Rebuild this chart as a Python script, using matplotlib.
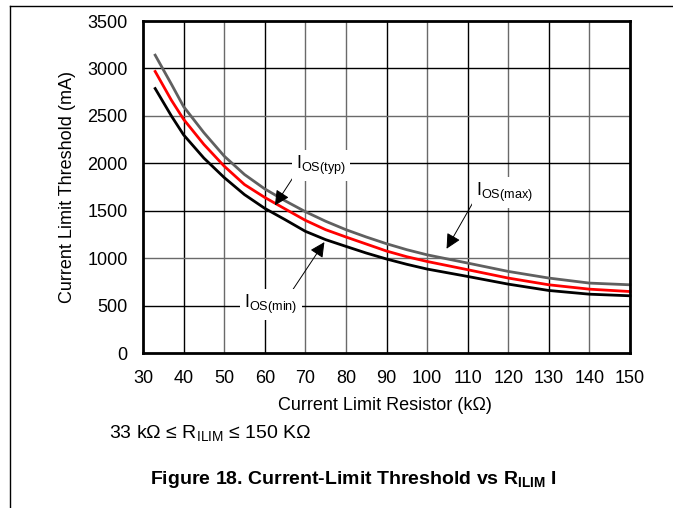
import matplotlib
matplotlib.use("Agg")
import matplotlib.pyplot as plt
from matplotlib.lines import Line2D

plt.rcParams['font.family'] = ['Liberation Sans', 'DejaVu Sans']
plt.rcParams['mathtext.fontset'] = 'custom'
plt.rcParams['mathtext.rm'] = 'Liberation Sans'
plt.rcParams['mathtext.it'] = 'Liberation Sans'
plt.rcParams['mathtext.bf'] = 'Liberation Sans:bold'

# Data
r_ilim = [33, 37, 40, 45, 50, 55, 60, 65, 70, 75, 80, 85, 90, 95, 100, 110, 120, 130, 140, 150]
ios_max = [3140, 2834, 2598, 2323, 2076, 1882, 1730, 1605, 1490, 1389, 1300, 1223, 1152, 1089,
           1035, 948, 860, 790, 737, 719]
ios_typ = [2968, 2665, 2464, 2199, 1970, 1776, 1640, 1519, 1399, 1300, 1223, 1149, 1075, 1015,
           965, 878, 790, 719, 673, 648]
ios_min = [2788, 2499, 2300, 2055, 1850, 1670, 1525, 1406, 1283, 1195, 1124, 1054, 991, 935,
           885, 807, 726, 659, 620, 603]

x_ticks = list(range(30, 151, 10))
y_ticks = list(range(0, 3501, 500))
vgrid_gray = [50, 70, 80, 100, 120, 140]
hgrid_gray = [1000, 2500]

W, H = 673, 508
fig = plt.figure(figsize=(W / 100, H / 100), dpi=100)
ax = fig.add_axes([143 / W, 1 - 353 / H, (630 - 143) / W, (353 - 21) / H])

ax.set_xlim(30, 150)
ax.set_ylim(0, 3500)
ax.set_xticks(x_ticks)
ax.set_yticks(y_ticks)
ax.tick_params(length=0, labelsize=13)
ax.tick_params(axis='x', pad=12)
ax.tick_params(axis='y', pad=11)

for xv in x_ticks[1:-1]:
    ax.axvline(xv, color='#6a6a6a' if xv in vgrid_gray else 'black', lw=1.0, zorder=1)
for yv in y_ticks[1:-1]:
    ax.axhline(yv, color='#6a6a6a' if yv in hgrid_gray else 'black', lw=1.0, zorder=1)

for sp in ax.spines.values():
    sp.set_linewidth(2.0)
    sp.set_zorder(5)

ax.plot(r_ilim, ios_max, color='#606060', lw=2.0, zorder=3, clip_on=False)
ax.plot(r_ilim, ios_typ, color='#ff0000', lw=2.0, zorder=3, clip_on=False)
ax.plot(r_ilim, ios_min, color='black', lw=2.0, zorder=3, clip_on=False)

arrow = dict(arrowstyle='-|>,head_length=0.9,head_width=0.45', color='black', lw=0.7,
             shrinkA=0, shrinkB=0)
box = dict(facecolor='white', edgecolor='none', pad=3)

ax.annotate('', xy=(62.5, 1556), xytext=(67.6, 1891), arrowprops=arrow, zorder=4)
ax.text(67.8, 1979, r'$\mathregular{I_{OS(typ)}}$', fontsize=13, va='center', ha='left',
        bbox=box, zorder=4)

ax.annotate('', xy=(104.8, 1099), xytext=(111.7, 1616), arrowprops=arrow, zorder=4)
ax.text(112.0, 1692, r'$\mathregular{I_{OS(max)}}$', fontsize=13, va='center', ha='left',
        bbox=box, zorder=4)

ax.annotate('', xy=(74.7, 1169), xytext=(66.5, 641), arrowprops=arrow, zorder=4)
ax.text(54.9, 510, r'$\mathregular{I_{OS(min)}}$', fontsize=13, va='center', ha='left',
        bbox=box, zorder=4)

ax.set_ylabel('Current Limit Threshold (mA)', fontsize=13)
ax.yaxis.set_label_coords(-0.1376, 0.5)

fig.text(385 / W, 1 - 406 / H, 'Current Limit Resistor (kΩ)', fontsize=13,
         ha='center', va='center')
fig.text(109 / W, 1 - 433 / H, r'33 kΩ ≤ R$_{\mathregular{ILIM}}$ ≤ 150 KΩ', fontsize=14,
         ha='left', va='center')
fig.text(150 / W, 1 - 480 / H, r'Figure 18. Current-Limit Threshold vs R$_{\mathbf{ILIM}}$ I',
         fontsize=14, fontweight='bold', ha='left', va='center')

# page border (left and top)
fig.add_artist(Line2D([10 / W, 10 / W], [0, 1 - 6 / H], transform=fig.transFigure,
                      color='black', lw=1.0))
fig.add_artist(Line2D([10 / W, 1], [1 - 6 / H, 1 - 6 / H], transform=fig.transFigure,
                      color='black', lw=1.0))

fig.savefig('out.png', dpi=100)
